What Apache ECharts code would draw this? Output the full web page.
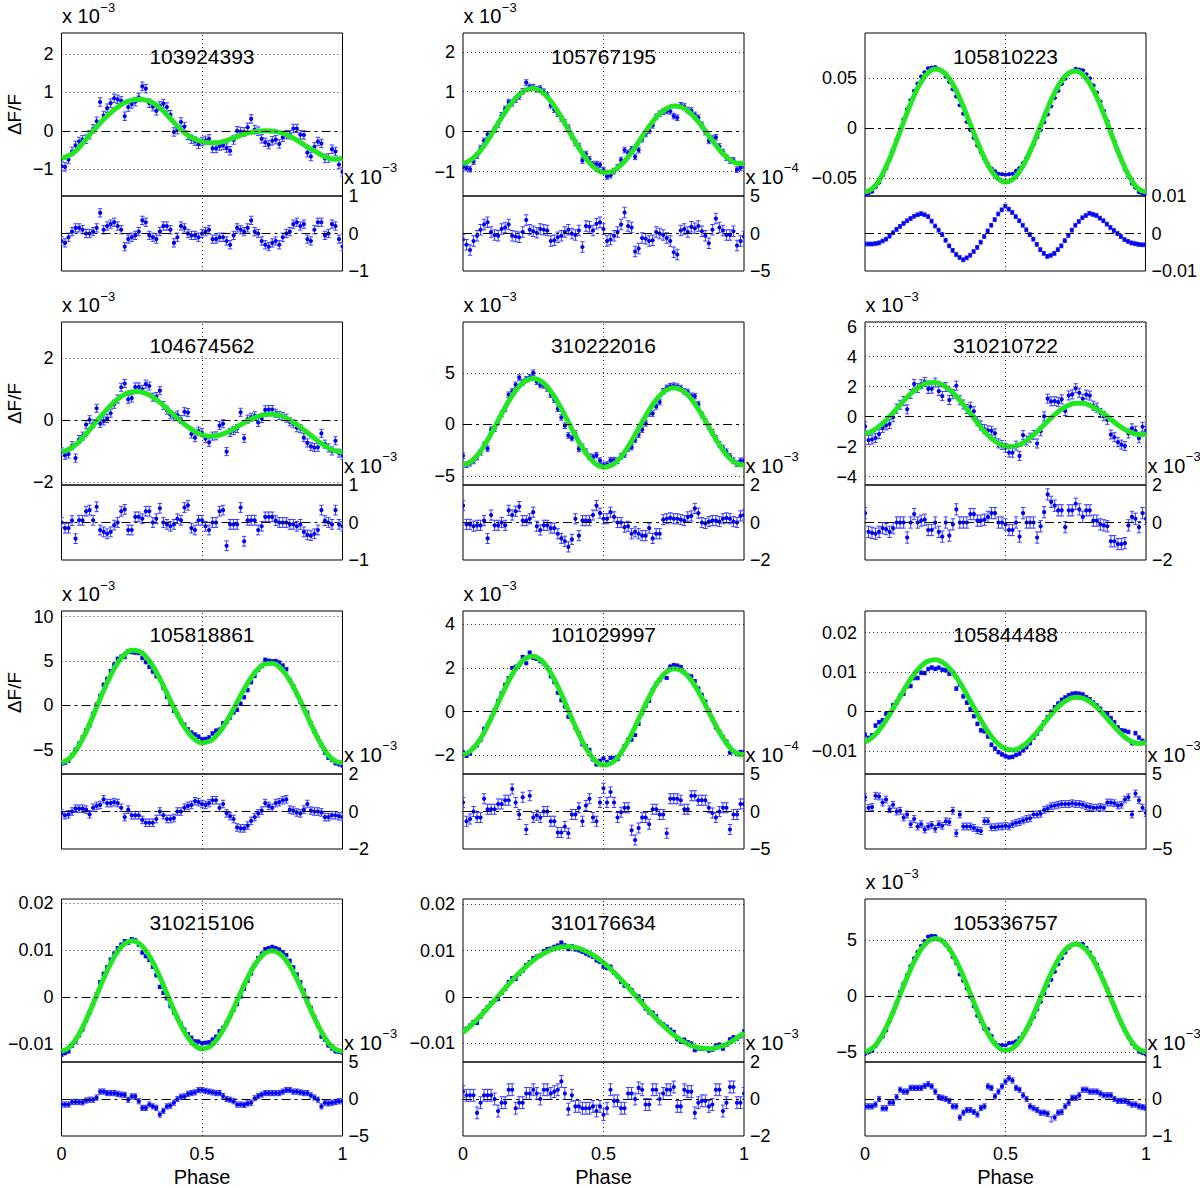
<!DOCTYPE html>
<html>
<head>
<meta charset="utf-8">
<title>Phase curves</title>
<script src="https://cdn.jsdelivr.net/npm/echarts@6.0.0/dist/echarts.min.js"></script>
<style>
html,body{margin:0;padding:0;background:#fff;}
#chart{width:1200px;height:1188px;}
</style>
</head>
<body>
<div id="chart"></div>
<script>
// ---------------- data ----------------
// phase bins: main grid (41) and the bins half-way between them (40)
const phase = [0,0.025,0.05,0.075,0.1,0.125,0.15,0.175,0.2,0.225,0.25,0.275,0.3,0.325,0.35,0.375,0.4,0.425,0.45,0.475,0.5,0.525,0.55,0.575,0.6,0.625,0.65,0.675,0.7,0.725,0.75,0.775,0.8,0.825,0.85,0.875,0.9,0.925,0.95,0.975,1];
const phaseMid = [0.0125,0.0375,0.0625,0.0875,0.1125,0.1375,0.1625,0.1875,0.2125,0.2375,0.2625,0.2875,0.3125,0.3375,0.3625,0.3875,0.4125,0.4375,0.4625,0.4875,0.5125,0.5375,0.5625,0.5875,0.6125,0.6375,0.6625,0.6875,0.7125,0.7375,0.7625,0.7875,0.8125,0.8375,0.8625,0.8875,0.9125,0.9375,0.9625,0.9875];
const xTicks = [0, 0.5, 1];
const ids = ['103924393','105767195','105810223','104674562','310222016','310210722','105818861','101029997','105844488','310215106','310176634','105336757'];

const p1Fit  = [-0.72,-0.65,-0.53,-0.33,-0.10,0.10,0.30,0.47,0.62,0.73,0.80,0.82,0.80,0.73,0.60,0.42,0.22,0.03,-0.12,-0.22,-0.28,-0.31,-0.31,-0.28,-0.22,-0.15,-0.08,-0.04,-0.01,0.00,-0.01,-0.04,-0.10,-0.19,-0.30,-0.42,-0.52,-0.63,-0.71,-0.74,-0.72];
const p1Data = [-0.92,-0.75,-0.38,-0.23,-0.10,0.25,0.40,0.72,0.82,0.38,0.70,0.87,1.10,0.63,0.65,0.62,-0.03,0.23,-0.12,-0.27,-0.28,-0.21,-0.46,-0.38,-0.52,0.00,-0.03,0.31,-0.01,-0.30,-0.26,-0.34,-0.10,0.06,-0.10,-0.57,-0.42,-0.33,-0.71,-0.54,-1.07];
const p1DataMid = [-0.94,-0.54,-0.28,-0.22,0.05,0.75,0.59,0.85,0.78,0.62,0.76,1.16,0.72,0.52,0.71,0.42,0.03,0.11,-0.22,-0.35,-0.25,-0.46,-0.40,-0.45,-0.24,-0.02,0.09,0.03,-0.21,-0.36,-0.23,-0.17,-0.10,0.06,-0.11,-0.67,-0.28,-0.72,-0.48,-0.88];
const p1Res  = [-0.2,-0.1,0.15,0.1,0.0,0.15,0.1,0.25,0.2,-0.35,-0.1,0.05,0.3,-0.1,0.05,0.2,-0.25,0.2,0.0,-0.05,0.0,0.1,-0.15,-0.1,-0.3,0.15,0.05,0.35,0.0,-0.3,-0.25,-0.3,0.0,0.25,0.2,-0.15,0.1,0.3,0.0,0.2,-0.35];
const p1ResMid = [-0.25,0.05,0.15,0.0,0.05,0.55,0.2,0.3,0.1,-0.15,-0.05,0.35,-0.05,-0.15,0.2,0.1,-0.1,0.15,-0.05,-0.1,0.05,-0.15,-0.1,-0.2,-0.05,0.1,0.15,0.05,-0.2,-0.35,-0.2,-0.1,0.05,0.3,0.25,-0.2,0.3,-0.05,0.25,-0.15];

const p2Fit  = [-0.80,-0.72,-0.57,-0.35,-0.08,0.21,0.49,0.74,0.93,1.05,1.08,1.02,0.87,0.64,0.36,0.05,-0.26,-0.54,-0.78,-0.94,-1.02,-1.01,-0.91,-0.74,-0.52,-0.26,0.01,0.25,0.45,0.58,0.64,0.62,0.52,0.35,0.14,-0.10,-0.34,-0.55,-0.70,-0.79,-0.80];
const p2Data = [-0.88,-0.94,-0.60,-0.23,-0.06,0.18,0.57,0.71,0.88,1.23,1.11,1.08,0.91,0.55,0.33,0.10,-0.28,-0.72,-0.69,-0.81,-0.96,-1.09,-0.89,-0.46,-0.44,-0.46,-0.06,0.16,0.45,0.52,0.39,0.66,0.54,0.42,0.17,-0.23,-0.14,-0.51,-0.72,-0.95,-0.84];
const p2DataMid = [-0.91,-0.75,-0.41,-0.07,0.05,0.41,0.74,0.80,1.01,1.12,1.06,1.00,0.66,0.45,0.23,-0.11,-0.36,-0.56,-0.82,-0.83,-1.12,-0.99,-0.71,-0.53,-0.63,-0.19,0.03,0.37,0.50,0.51,0.35,0.63,0.53,0.35,-0.01,-0.17,-0.37,-0.65,-0.72,-0.90];
const p2Res  = [-0.8,-2.2,-0.3,1.2,0.2,-0.3,0.8,-0.3,-0.5,1.8,0.3,0.6,0.4,-0.9,-0.3,0.5,-0.2,-1.8,0.9,1.3,0.6,-0.8,0.2,2.8,0.8,-2.0,-0.7,-0.9,0.0,-0.6,-2.5,0.4,0.2,0.7,0.3,-1.3,2.0,0.4,-0.2,-1.6,-0.4];
const p2ResMid = [-1.5,-1.0,0.5,1.5,-0.2,0.6,1.2,-0.4,0.2,0.5,0.1,0.5,-1.0,-0.5,0.2,0.0,0.4,1.0,0.4,1.5,-1.0,-0.3,1.2,1.0,-2.4,-0.6,-1.0,0.2,-0.2,-1.0,-2.8,0.6,0.9,1.0,-0.3,0.5,0.8,-0.2,0.3,-1.0];

const p3Fit  = [-64.0,-60.9,-52.3,-38.9,-22.0,-3.3,15.4,32.5,46.2,55.3,59.0,56.9,49.3,37.1,21.3,3.7,-13.9,-30.0,-42.8,-51.0,-54.0,-51.4,-43.4,-30.9,-15.1,2.3,19.7,35.3,47.4,54.9,57.0,53.4,44.3,30.7,13.8,-4.8,-23.2,-39.8,-52.9,-61.2,-64.0];
const p3Data = [-66.8,-63.7,-54.8,-40.4,-21.8,-1.4,18.8,37.1,51.5,59.8,61.0,56.6,46.0,31.5,14.3,-2.1,-17.6,-30.8,-40.6,-45.8,-46.7,-45.8,-40.0,-29.9,-16.6,-2.0,13.6,30.0,44.1,54.4,59.2,57.6,49.7,35.5,17.2,-3.2,-23.2,-41.4,-55.4,-64.1,-67.0];
const p3DataMid = [-65.3,-59.3,-47.6,-31.2,-11.6,8.8,28.0,44.4,55.8,60.5,58.9,51.3,38.7,22.8,6.0,-9.9,-24.3,-35.7,-43.2,-46.2,-46.2,-42.9,-35.0,-23.3,-9.3,5.7,21.7,37.1,49.3,56.9,58.4,53.7,42.6,26.4,7.0,-13.2,-32.3,-48.5,-59.8,-65.6];
const p3Res  = [-2.8,-2.8,-2.5,-1.5,0.2,1.9,3.4,4.6,5.3,4.5,2.0,-0.3,-3.3,-5.6,-7.0,-5.8,-3.7,-0.8,2.2,5.2,7.3,5.6,3.4,1.0,-1.5,-4.3,-6.1,-5.3,-3.3,-0.5,2.2,4.2,5.4,4.8,3.4,1.6,0.0,-1.6,-2.5,-2.9,-3.0];
const p3ResMid = [-2.8,-2.7,-2.0,-0.7,1.1,2.7,4.0,5.0,5.0,3.3,0.9,-1.8,-4.5,-6.4,-6.5,-4.8,-2.3,0.7,3.7,6.3,6.5,4.5,2.2,-0.3,-2.9,-5.3,-5.8,-4.3,-1.9,0.9,3.2,4.8,5.1,4.1,2.5,0.8,-0.8,-2.1,-2.7,-3.0];

const p4Fit  = [-1.03,-0.95,-0.80,-0.58,-0.32,-0.04,0.22,0.47,0.68,0.83,0.91,0.92,0.86,0.74,0.57,0.37,0.16,-0.04,-0.22,-0.37,-0.47,-0.52,-0.51,-0.45,-0.35,-0.22,-0.09,0.03,0.12,0.18,0.19,0.15,0.06,-0.07,-0.23,-0.41,-0.59,-0.76,-0.90,-1.00,-1.04];
const p4Data = [-1.03,-1.10,-1.23,-0.52,0.01,0.38,-0.03,0.22,0.68,1.18,0.71,1.07,1.16,0.74,0.95,0.32,0.11,0.02,0.24,-0.57,-0.41,-0.72,-0.51,-0.12,-0.40,-0.27,-0.59,0.09,-0.08,0.33,0.34,0.15,0.06,-0.12,-0.28,-0.74,-0.89,-0.43,-0.90,-0.67,-1.14];
const p4DataMid = [-1.14,-0.83,-0.63,-0.15,-0.12,-0.11,0.05,0.51,1.06,0.67,1.07,0.99,1.10,0.76,0.47,0.17,0.16,0.27,-0.45,-0.36,-0.60,-0.52,-0.18,-1.02,-0.34,0.25,0.03,0.14,0.05,0.34,0.22,0.11,-0.06,-0.25,-0.57,-0.85,-0.88,-0.78,-1.00,-1.07];
const p4Res  = [0.0,-0.15,-0.43,0.06,0.33,0.42,-0.25,-0.25,0.0,0.35,-0.2,0.15,0.3,0.0,0.38,-0.05,-0.05,0.06,0.46,-0.2,0.06,-0.2,0.0,0.33,-0.05,-0.05,-0.5,0.06,-0.2,0.15,0.15,0.0,0.0,-0.05,-0.05,-0.33,-0.3,0.33,0.0,0.33,-0.1];
const p4ResMid = [-0.15,0.05,0.06,0.3,0.06,-0.2,-0.3,-0.07,0.3,-0.2,0.15,0.1,0.3,0.1,0.0,-0.1,0.1,0.4,-0.15,0.06,-0.1,0.0,0.3,-0.62,-0.05,0.4,0.06,0.06,-0.1,0.15,0.05,0.0,-0.05,-0.1,-0.25,-0.35,-0.2,0.05,-0.05,-0.05];

const p5Fit  = [-3.94,-3.67,-3.03,-2.09,-0.91,0.37,1.65,2.79,3.69,4.26,4.45,4.23,3.63,2.70,1.52,0.22,-1.08,-2.27,-3.23,-3.88,-4.15,-4.02,-3.51,-2.68,-1.61,-0.41,0.80,1.90,2.77,3.34,3.55,3.37,2.84,1.99,0.92,-0.26,-1.44,-2.49,-3.31,-3.81,-3.94];
const p5Data = [-3.04,-3.77,-3.18,-1.99,-0.51,0.22,1.50,3.19,4.54,4.36,5.00,3.83,3.48,2.40,0.67,-1.08,-0.88,-2.17,-3.13,-2.98,-3.95,-3.47,-3.51,-2.93,-2.21,-1.01,0.10,1.05,2.17,3.54,3.75,3.52,3.14,2.74,0.92,-0.21,-1.34,-2.29,-3.11,-3.81,-3.54];
const p5DataMid = [-3.91,-3.55,-2.71,-2.35,-0.42,1.01,2.87,3.84,4.08,4.56,4.14,3.78,2.87,1.51,-0.13,-1.33,-2.38,-2.65,-3.16,-3.52,-3.89,-3.47,-3.10,-2.35,-1.51,-0.51,1.05,1.74,3.21,3.70,3.66,3.21,2.77,1.96,0.28,-0.75,-1.92,-2.65,-3.51,-3.53];
const p5Res  = [0.9,-0.1,-0.15,0.1,0.4,-0.15,-0.15,0.4,0.85,0.1,0.55,-0.4,-0.15,-0.3,-0.85,-1.3,0.2,0.1,0.1,0.9,0.2,0.55,0.0,-0.25,-0.6,-0.6,-0.7,-0.85,-0.6,0.2,0.2,0.15,0.3,0.75,0.0,0.05,0.1,0.2,0.2,0.0,0.4];
const p5ResMid = [-0.1,-0.2,-0.15,-0.85,-0.15,0.0,0.65,0.6,0.1,0.2,-0.2,-0.15,-0.3,-0.6,-1.0,-0.9,-0.7,0.1,0.4,0.5,0.2,0.3,0.0,-0.2,-0.5,-0.7,-0.3,-0.6,0.15,0.25,0.2,0.1,0.35,0.5,-0.05,0.1,0.05,0.25,0.05,0.35];

const p6Fit  = [-1.15,-0.97,-0.66,-0.23,0.26,0.79,1.29,1.73,2.06,2.25,2.27,2.12,1.81,1.36,0.81,0.21,-0.40,-0.97,-1.44,-1.78,-1.97,-2.00,-1.86,-1.59,-1.21,-0.77,-0.30,0.13,0.50,0.76,0.89,0.89,0.75,0.50,0.18,-0.19,-0.55,-0.86,-1.08,-1.19,-1.15];
const p6Data = [-0.65,-1.52,-1.16,-0.58,-0.04,0.79,0.49,2.18,2.16,1.85,2.27,1.37,1.11,2.06,0.81,0.66,-0.30,-0.82,-0.94,-1.78,-2.07,-2.40,-2.61,-1.59,-1.21,-0.97,1.20,1.03,1.15,1.41,1.89,1.19,1.40,0.60,0.03,-1.19,-1.70,-1.96,-0.78,-1.44,-0.95];
const p6DataMid = [-1.56,-1.42,-0.75,-0.49,0.53,1.04,1.51,1.90,2.31,1.86,1.70,1.97,1.49,1.09,0.51,0.36,-0.59,-0.91,-1.11,-1.88,-2.39,-1.93,-1.23,-1.40,-1.79,0.02,1.02,0.97,0.38,1.48,1.59,1.47,0.73,0.24,-0.21,-1.37,-1.86,-1.12,-0.94,-0.67];
const p6Res  = [0.5,-0.55,-0.5,-0.35,-0.3,0.0,-0.8,0.45,0.1,-0.4,0.0,-0.75,-0.7,0.7,0.0,0.45,0.1,0.15,0.5,0.0,-0.1,-0.4,-0.75,0.0,0.0,-0.2,1.5,0.9,0.65,0.65,1.0,0.3,0.65,0.1,-0.15,-1.0,-1.15,-1.1,0.3,-0.25,0.2];
const p6ResMid = [-0.5,-0.6,-0.3,-0.5,0.0,0.0,0.0,0.0,0.15,-0.4,-0.5,0.0,-0.1,0.0,0.0,0.45,0.1,0.3,0.5,0.0,-0.4,0.0,0.5,0.0,-0.8,0.55,1.1,0.65,-0.25,0.65,0.7,0.65,0.1,-0.1,-0.2,-1.0,-1.15,-0.15,0.2,0.5];

const p7Fit  = [-6.45,-6.06,-5.14,-3.77,-2.08,-0.21,1.67,3.39,4.79,5.75,6.20,6.10,5.48,4.41,2.99,1.38,-0.26,-1.77,-3.00,-3.84,-4.20,-4.06,-3.45,-2.43,-1.11,0.36,1.82,3.12,4.10,4.67,4.75,4.32,3.41,2.09,0.50,-1.23,-2.93,-4.43,-5.59,-6.29,-6.45];
const p7Data = [-6.55,-6.21,-4.99,-3.62,-2.23,0.09,2.32,3.84,5.24,5.45,6.00,5.90,4.88,3.81,2.99,0.98,-0.61,-1.77,-2.70,-3.29,-3.80,-3.61,-2.85,-2.03,-1.36,-0.49,0.92,2.62,4.00,5.12,4.95,4.82,4.06,2.14,0.40,-0.83,-2.93,-4.48,-5.89,-6.49,-6.75];
const p7DataMid = [-6.46,-5.60,-4.31,-2.83,-0.95,1.08,2.98,4.59,5.47,6.08,5.95,5.34,4.35,3.30,1.99,0.16,-1.02,-2.19,-3.07,-3.52,-3.78,-3.16,-2.74,-1.87,-0.78,0.19,1.72,3.31,4.44,5.01,4.99,4.47,2.85,1.25,-0.27,-2.03,-3.68,-5.31,-6.14,-6.62];
const p7Res  = [-0.1,-0.15,0.15,0.15,-0.15,0.3,0.65,0.45,0.45,-0.3,-0.2,-0.2,-0.6,-0.6,0.0,-0.4,-0.35,0.0,0.3,0.55,0.4,0.45,0.6,0.4,-0.25,-0.85,-0.9,-0.5,-0.1,0.45,0.2,0.5,0.65,0.05,-0.1,0.4,0.0,-0.05,-0.3,-0.2,-0.3];
const p7ResMid = [-0.2,0.0,0.15,0.1,0.2,0.35,0.45,0.5,0.2,0.1,-0.2,-0.45,-0.6,-0.4,-0.2,-0.4,0.0,0.2,0.35,0.5,0.35,0.6,0.2,-0.1,-0.4,-0.9,-0.75,-0.3,0.05,0.3,0.45,0.6,0.1,-0.05,0.1,0.05,0.0,-0.3,-0.2,-0.25];

const p8Fit  = [-1.98,-1.83,-1.48,-0.96,-0.31,0.39,1.08,1.70,2.17,2.46,2.54,2.39,2.02,1.48,0.80,0.05,-0.70,-1.38,-1.93,-2.30,-2.46,-2.39,-2.11,-1.64,-1.04,-0.35,0.34,0.97,1.48,1.83,1.97,1.90,1.63,1.19,0.62,-0.01,-0.65,-1.21,-1.65,-1.92,-1.98];
const p8Data = [-1.86,-1.93,-1.56,-0.79,-0.28,0.49,1.23,2.00,2.13,2.22,2.46,2.31,2.02,1.35,0.52,-0.24,-0.74,-1.51,-1.76,-2.43,-2.15,-2.13,-2.19,-1.59,-1.29,-0.57,0.26,1.00,1.44,1.54,2.14,2.05,1.66,1.40,0.77,0.04,-0.73,-1.16,-1.89,-1.96,-1.88];
const p8DataMid = [-2.04,-1.66,-1.30,-0.61,0.07,0.84,1.54,2.06,2.51,2.71,2.42,2.21,1.62,0.86,0.23,-0.37,-0.99,-1.58,-2.20,-2.26,-2.31,-2.13,-1.89,-1.29,-1.08,-0.08,0.49,1.26,1.62,2.07,2.11,1.80,1.62,1.06,0.46,-0.35,-0.93,-1.38,-1.83,-1.85];
const p8Res  = [1.2,-1.0,-0.8,1.7,0.3,1.0,1.5,3.0,-0.4,-2.4,-0.8,-0.8,0.0,-1.3,-2.8,-2.9,-0.4,-1.3,1.7,-1.3,3.1,2.6,-0.8,0.5,-2.5,-2.2,-0.8,0.3,-0.4,-2.9,1.7,1.5,0.3,2.1,1.5,0.5,-0.8,0.5,-2.4,-0.4,1.0];
const p8ResMid = [-1.3,0.0,-0.8,0.3,0.3,1.0,1.5,1.2,1.9,2.1,-0.5,0.0,-1.3,-2.8,-2.0,-0.4,0.5,0.8,-0.8,1.2,1.2,1.2,-0.1,0.5,-3.8,-0.8,-1.7,0.3,-0.4,1.7,1.7,0.3,2.1,1.5,1.5,-0.2,0.0,0.5,-0.4,1.0];

const p9Fit  = [-7.80,-6.65,-4.75,-2.23,0.70,3.81,6.82,9.47,11.51,12.76,13.10,12.49,10.98,8.69,5.82,2.61,-0.67,-3.75,-6.37,-8.33,-9.50,-9.82,-9.30,-8.06,-6.26,-4.11,-1.87,0.23,1.95,3.11,3.60,3.37,2.47,1.00,-0.87,-2.91,-4.88,-6.55,-7.69,-8.14,-7.80];
const p9Data = [-5.90,-6.05,-2.75,-0.63,1.60,3.91,6.42,8.47,9.81,10.76,10.80,10.59,9.58,5.79,3.82,0.61,-3.17,-5.05,-8.47,-10.33,-11.40,-11.52,-10.70,-9.06,-6.66,-4.41,-1.47,1.03,2.95,4.11,4.60,4.27,3.07,1.50,-0.37,-1.71,-4.08,-4.95,-8.09,-6.64,-8.00];
const p9DataMid = [-6.73,-3.60,-2.29,-0.47,2.26,4.52,6.45,8.49,9.74,11.13,11.10,10.44,9.94,6.86,2.22,-1.23,-4.81,-6.36,-9.45,-10.92,-11.66,-11.06,-9.88,-8.06,-5.59,-2.79,-0.12,1.99,3.53,4.46,4.49,3.62,2.24,0.67,-0.69,-2.80,-4.82,-5.22,-5.52,-7.47];
const p9Res  = [1.9,0.6,2.0,1.6,0.9,0.1,-0.4,-1.0,-1.7,-2.0,-2.3,-1.9,-1.4,-2.9,-2.0,-2.0,-2.5,-1.3,-2.1,-2.0,-1.9,-1.7,-1.4,-1.0,-0.4,-0.3,0.4,0.8,1.0,1.0,1.0,0.9,0.6,0.5,0.5,1.2,0.8,1.6,-0.4,1.5,-0.2];
const p9ResMid = [0.5,2.1,1.2,0.3,0.0,-0.8,-1.7,-2.0,-2.4,-1.8,-1.7,-1.3,0.1,-0.4,-2.0,-2.2,-2.6,-1.3,-2.1,-2.0,-2.0,-1.5,-1.2,-0.9,-0.4,0.2,0.7,0.9,1.0,1.1,1.0,0.7,0.5,0.6,1.2,1.1,0.9,1.9,2.4,0.5];

const p10Fit  = [-11.50,-10.79,-9.04,-6.42,-3.17,0.42,3.98,7.20,9.75,11.40,12.00,11.48,9.91,7.43,4.28,0.77,-2.76,-5.98,-8.57,-10.30,-11.00,-10.62,-9.22,-6.93,-4.00,-0.72,2.58,5.56,7.91,9.41,9.90,9.33,7.75,5.33,2.28,-1.07,-4.40,-7.38,-9.69,-11.12,-11.50];
const p10Data = [-12.25,-11.54,-9.44,-6.87,-3.27,0.62,4.98,8.00,10.45,11.95,12.35,11.18,8.71,6.43,2.18,-0.23,-3.26,-5.68,-7.87,-9.40,-9.80,-9.62,-8.42,-6.53,-4.10,-1.47,1.78,5.06,8.31,10.21,10.70,10.13,8.95,6.33,3.18,-0.27,-4.20,-8.38,-10.29,-11.52,-11.80];
const p10DataMid = [-11.90,-10.32,-8.13,-5.00,-1.48,3.20,6.39,9.28,11.18,11.60,12.09,9.50,7.92,4.66,0.93,-1.90,-4.37,-6.93,-8.64,-9.45,-9.71,-9.02,-7.28,-5.47,-2.66,0.18,3.47,6.84,9.26,10.46,10.42,9.54,7.74,4.81,1.41,-2.24,-5.99,-9.04,-10.91,-11.61];
const p10Res  = [-0.75,-0.75,-0.4,-0.45,-0.1,0.2,1.0,0.8,0.7,0.55,0.35,-0.3,-1.2,-1.0,-2.1,-1.0,-0.5,0.3,0.7,0.9,1.2,1.0,0.8,0.4,-0.1,-0.75,-0.8,-0.5,0.4,0.8,0.8,0.8,1.2,1.0,0.9,0.8,0.2,-1.0,-0.6,-0.4,-0.3];
const p10ResMid = [-0.75,-0.4,-0.4,-0.2,-0.1,1.0,0.8,0.8,0.6,-0.1,0.35,-1.2,-0.75,-1.2,-1.6,-0.9,0.0,0.35,0.8,1.2,1.1,0.9,0.8,0.0,-0.3,-0.75,-0.6,0.1,0.6,0.8,0.8,1.0,1.2,1.0,0.8,0.5,-0.1,-0.5,-0.5,-0.3];

const p11Fit  = [-7.69,-6.33,-4.84,-3.22,-1.53,0.19,1.91,3.58,5.15,6.59,7.87,8.95,9.80,10.41,10.76,10.85,10.65,10.20,9.48,8.54,7.38,6.03,4.54,2.92,1.23,-0.49,-2.21,-3.88,-5.45,-6.89,-8.17,-9.25,-10.10,-10.71,-11.06,-11.15,-10.95,-10.50,-9.78,-8.84,-7.69];
const p11Data = [-7.29,-6.13,-5.59,-3.02,-1.33,-0.46,1.71,4.08,4.95,6.89,8.37,8.95,10.30,10.81,11.71,10.30,10.25,9.70,8.98,7.89,6.53,6.53,4.44,2.42,1.53,0.11,-2.51,-3.38,-5.45,-6.39,-7.52,-9.65,-9.70,-11.46,-11.16,-11.55,-10.45,-11.15,-9.13,-9.04,-7.39];
const p11DataMid = [-6.81,-5.39,-4.23,-2.18,-0.67,0.85,3.25,3.87,5.67,7.53,8.71,9.88,10.41,11.09,11.11,10.95,10.03,9.34,8.61,7.56,6.21,5.19,3.23,2.38,0.37,-0.85,-3.35,-4.17,-5.87,-7.03,-9.11,-9.18,-10.01,-11.09,-11.21,-11.35,-10.23,-10.34,-8.66,-8.47];
const p11Res  = [0.4,0.2,-0.75,0.2,0.2,-0.65,-0.2,0.5,-0.2,0.3,0.5,0.0,0.5,0.4,0.95,-0.55,-0.4,-0.5,-0.5,-0.65,-0.85,0.5,-0.1,-0.5,0.3,0.6,-0.3,0.5,0.0,0.5,0.65,-0.4,0.4,-0.75,-0.1,-0.4,0.5,-0.65,0.65,-0.2,0.3];
const p11ResMid = [0.2,0.2,-0.2,0.2,0.0,-0.2,0.5,-0.5,-0.2,0.3,0.3,0.5,0.3,0.5,0.3,0.2,-0.4,-0.5,-0.4,-0.4,-0.5,-0.1,-0.5,0.3,0.0,0.5,-0.3,0.5,0.3,0.5,-0.4,0.5,0.4,-0.2,-0.1,-0.3,0.5,-0.2,0.65,-0.2];

const p12Fit  = [-4.95,-4.67,-3.93,-2.81,-1.41,0.14,1.69,3.08,4.19,4.90,5.15,4.92,4.22,3.13,1.75,0.21,-1.33,-2.72,-3.84,-4.57,-4.85,-4.65,-3.99,-2.95,-1.62,-0.14,1.34,2.68,3.74,4.42,4.65,4.41,3.71,2.64,1.28,-0.21,-1.70,-3.04,-4.09,-4.75,-4.95];
const p12Data = [-5.15,-4.87,-3.93,-3.06,-1.51,0.39,1.89,3.38,4.49,5.30,5.35,4.95,4.17,2.93,1.38,-0.09,-1.75,-2.92,-3.54,-4.37,-4.38,-4.15,-3.74,-2.95,-1.87,-0.51,0.94,2.18,3.39,4.32,4.68,4.66,3.91,2.84,1.38,-0.11,-1.75,-3.09,-4.24,-4.95,-5.19];
const p12DataMid = [-5.01,-4.45,-3.62,-2.21,-0.59,1.12,2.69,3.94,4.90,5.37,5.09,4.57,3.48,1.94,0.68,-0.91,-2.27,-2.94,-4.14,-4.37,-4.19,-4.02,-3.37,-2.49,-1.18,0.23,1.46,2.84,3.88,4.57,4.63,4.31,3.38,2.11,0.64,-0.96,-2.42,-3.67,-4.57,-5.07];
const p12Res  = [-0.2,-0.2,0.0,-0.25,-0.1,0.25,0.2,0.3,0.3,0.4,0.2,0.03,-0.05,-0.2,-0.37,-0.3,-0.42,-0.2,0.3,0.2,0.47,0.5,0.25,0.0,-0.25,-0.37,-0.4,-0.5,-0.35,-0.1,0.03,0.25,0.2,0.2,0.1,0.1,-0.05,-0.05,-0.15,-0.2,-0.24];
const p12ResMid = [-0.2,-0.15,-0.25,-0.1,0.05,0.2,0.3,0.3,0.35,0.34,0.05,0.0,-0.2,-0.5,-0.3,-0.35,-0.24,0.34,0.07,0.34,0.56,0.3,0.1,-0.2,-0.3,-0.37,-0.55,-0.37,-0.2,0.03,0.1,0.25,0.2,0.15,0.1,0.0,-0.05,-0.1,-0.15,-0.22];

// axis ranges / tick labels (values stored in units of the axis multiplier)
const mainMin   = [-1.7,-1.61,-68,-2.1,-5.88,-4.55,-7.72,-2.87,-15.9,-13.8,-14.0,-5.87];
const mainMax   = [2.55,2.47,95,3.17,9.93,6.3,10.62,4.62,25.5,20.9,21.1,8.66];
const mainTicks = [[-1,0,1,2],[-1,0,1,2],[-50,0,50],[-2,0,2],[-5,0,5],[-4,-2,0,2,4,6],[-5,0,5,10],[-2,0,2,4],[-10,0,10,20],[-10,0,10,20],[-10,0,10,20],[-5,0,5]];
const mainLabelScale = [1,1,0.001,1,1,1,1,1,0.001,0.001,0.001,1];
const resLimit  = [1,5,10,1,2,2,2,5,5,5,2,1];
const resLabelScale = [1,1,0.001,1,1,1,1,1,1,1,1,1];
const mainExp = ['\u22123','\u22123','','\u22123','\u22123','\u22123','\u22123','\u22123','','','','\u22123'];
const resExp  = ['\u22123','\u22124','','\u22123','\u22123','\u22123','\u22123','\u22124','\u22123','\u22123','\u22123','\u22123'];
const mainErr = [0.11,0.07,0.5,0.13,0.27,0.3,0.2,0.067,0.45,0.35,0.32,0.07];
const resErr  = [0.11,0.7,0.5,0.13,0.27,0.3,0.2,0.67,0.45,0.35,0.32,0.07];

const fits = [p1Fit,p2Fit,p3Fit,p4Fit,p5Fit,p6Fit,p7Fit,p8Fit,p9Fit,p10Fit,p11Fit,p12Fit];
const datas = [p1Data,p2Data,p3Data,p4Data,p5Data,p6Data,p7Data,p8Data,p9Data,p10Data,p11Data,p12Data];
const datasMid = [p1DataMid,p2DataMid,p3DataMid,p4DataMid,p5DataMid,p6DataMid,p7DataMid,p8DataMid,p9DataMid,p10DataMid,p11DataMid,p12DataMid];
const ress = [p1Res,p2Res,p3Res,p4Res,p5Res,p6Res,p7Res,p8Res,p9Res,p10Res,p11Res,p12Res];
const ressMid = [p1ResMid,p2ResMid,p3ResMid,p4ResMid,p5ResMid,p6ResMid,p7ResMid,p8ResMid,p9ResMid,p10ResMid,p11ResMid,p12ResMid];

// ---------------- layout / style ----------------
const colLeft = [61.5, 463, 865];
const rowTop = [33, 322, 611, 899];
const W = 281, MH = 163, RH = 75;
const FONT = '"Liberation Sans", Arial, Helvetica, sans-serif';
const dotted = {color:'#333', width:1, type:[1,3]};
const dashdot = {color:'#000', width:1, type:[9,4,3,4]};

function fmt(v, s) {
  const x = Math.round(v * s * 1e6) / 1e6;
  return (x < 0 ? '\u2212' : '') + String(Math.abs(x));
}

function errItem(params, api) {
  const x = api.value(0), y = api.value(1), e = api.value(2);
  const c = api.coord([x, y]);
  const yt = api.coord([x, y + e])[1];
  const yb = api.coord([x, y - e])[1];
  const w = 2.2;
  const ls = {stroke:'#3c3cff', lineWidth:1, fill:'none'};
  return {type:'group', children:[
    {type:'line', shape:{x1:c[0], y1:yt, x2:c[0], y2:yb}, style:ls},
    {type:'line', shape:{x1:c[0]-w, y1:yt, x2:c[0]+w, y2:yt}, style:ls},
    {type:'line', shape:{x1:c[0]-w, y1:yb, x2:c[0]+w, y2:yb}, style:ls},
    {type:'circle', shape:{cx:c[0], cy:c[1], r:2.1}, style:{fill:'#0000f0', stroke:'none'}}
  ]};
}

function txt(text, x, y, size, align) {
  return {type:'text', x:x, y:y, silent:true, z:50,
    style:{text:text, fill:'#000', fontSize:size, fontFamily:FONT,
      textAlign:align, align:align, textVerticalAlign:'middle', verticalAlign:'middle'}};
}

function points(ph, vals, err) {
  return ph.map((p, k) => [p, vals[k], err]);
}

const grid = [], xAxis = [], yAxis = [], series = [], graphic = [];
const axisLabelBase = {color:'#000', fontSize:18, fontFamily:FONT};

for (let i = 0; i < 12; i++) {
  const r = Math.floor(i / 3), c = i % 3;
  const L = colLeft[c], T = rowTop[r], RT = T + MH;
  const gm = 2 * i, gr = 2 * i + 1;
  grid.push({left:L, top:T, width:W, height:MH, show:true, borderColor:'#000', borderWidth:1});
  grid.push({left:L, top:RT, width:W, height:RH, show:true, borderColor:'#000', borderWidth:1});
  [gm, gr].forEach(g => {
    const showX = (r === 3 && g === gr);
    xAxis.push({type:'value', gridIndex:g, min:0, max:1,
      axisLine:{show:false}, axisTick:{show:false}, splitLine:{show:false},
      axisLabel:Object.assign({show:showX, customValues:xTicks, formatter:v => fmt(v, 1), margin:9}, axisLabelBase),
      name: showX ? 'Phase' : '', nameLocation:'middle', nameGap:31,
      nameTextStyle:{color:'#000', fontSize:20, fontFamily:FONT}});
  });
  yAxis.push({type:'value', gridIndex:gm, min:mainMin[i], max:mainMax[i], position:'left',
    axisLine:{show:false}, axisTick:{show:false}, splitLine:{show:false},
    axisLabel:Object.assign({customValues:mainTicks[i], formatter:v => fmt(v, mainLabelScale[i]), margin:8}, axisLabelBase),
    name:(c === 0 && r < 3) ? '\u0394F/F' : '', nameLocation:'middle', nameRotate:90, nameGap:38,
    nameTextStyle:{color:'#000', fontSize:19, fontFamily:FONT}});
  yAxis.push({type:'value', gridIndex:gr, min:-resLimit[i], max:resLimit[i], position:'right',
    axisLine:{show:false}, axisTick:{show:false}, splitLine:{show:false},
    axisLabel:Object.assign({customValues:[-resLimit[i], 0, resLimit[i]], formatter:v => fmt(v, resLabelScale[i]), margin:6}, axisLabelBase)});

  // grid lines + zero lines
  const mainLines = mainTicks[i].filter(t => t !== 0).map(t => ({yAxis:t, lineStyle:dotted}));
  mainLines.push({xAxis:xTicks[1], lineStyle:dotted});
  mainLines.push({yAxis:0, lineStyle:dashdot});
  const resLines = [{xAxis:xTicks[1], lineStyle:dotted}, {yAxis:0, lineStyle:dashdot}];
  [[gm, mainLines], [gr, resLines]].forEach(([g, lines]) => {
    series.push({type:'line', xAxisIndex:g, yAxisIndex:g, z:1, silent:true, symbol:'none',
      data:[[xTicks[0], 0], [xTicks[2], 0]], lineStyle:{opacity:0},
      markLine:{silent:true, symbol:['none','none'], label:{show:false}, animation:false,
        emphasis:{disabled:true}, data:lines}});
  });

  // data with error bars
  series.push({type:'custom', xAxisIndex:gm, yAxisIndex:gm, z:2, clip:true, silent:true, renderItem:errItem,
    data:points(phase, datas[i], mainErr[i]).concat(points(phaseMid, datasMid[i], mainErr[i]))});
  // fit
  series.push({type:'line', xAxisIndex:gm, yAxisIndex:gm, z:3, silent:true, symbol:'none', smooth:true,
    lineStyle:{color:'#22e622', width:5}, data:phase.map((p, k) => [p, fits[i][k]])});
  // residuals
  series.push({type:'custom', xAxisIndex:gr, yAxisIndex:gr, z:2, clip:true, silent:true, renderItem:errItem,
    data:points(phase, ress[i], resErr[i]).concat(points(phaseMid, ressMid[i], resErr[i]))});

  // texts
  graphic.push(txt(ids[i], L + W / 2, T + 23.5, 21, 'center'));
  if (mainExp[i]) {
    graphic.push(txt('x 10', L + 0.5, T - 17, 20, 'left'));
    graphic.push(txt(mainExp[i], L + 38.8, T - 26, 13, 'left'));
  }
  if (resExp[i]) {
    graphic.push(txt('x 10', L + W + 1.5, RT - 19, 20, 'left'));
    graphic.push(txt(resExp[i], L + W + 39.8, RT - 29, 13, 'left'));
  }
}

const chart = echarts.init(document.getElementById('chart'), null, {renderer:'svg'});
chart.setOption({
  animation:false,
  backgroundColor:'#fff',
  textStyle:{fontFamily:FONT},
  grid:grid, xAxis:xAxis, yAxis:yAxis, series:series, graphic:graphic
});
</script>
</body>
</html>
